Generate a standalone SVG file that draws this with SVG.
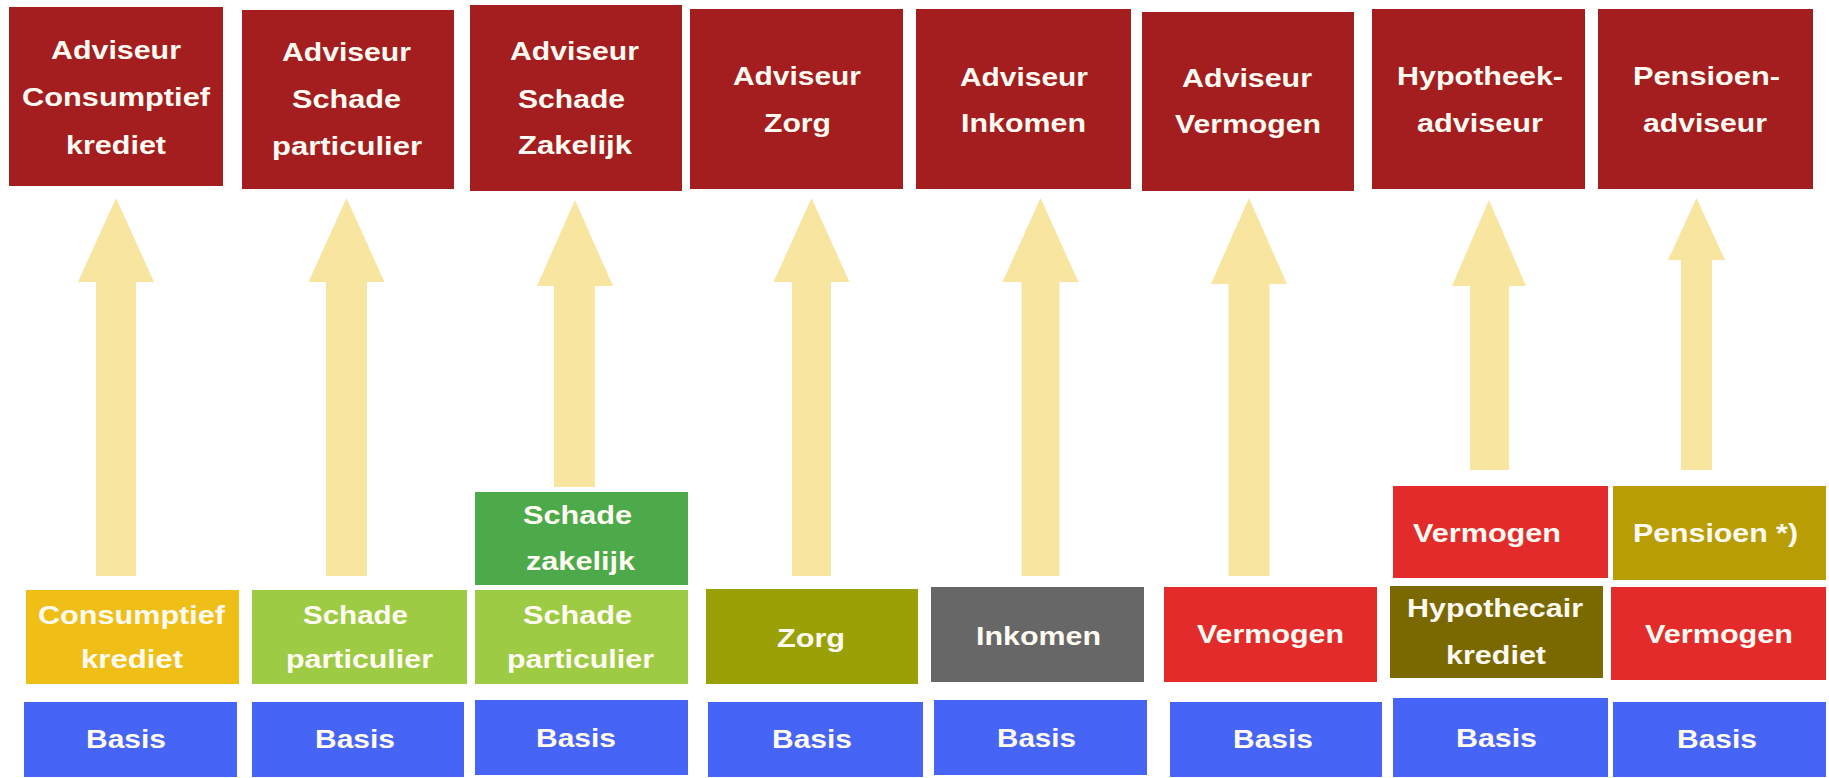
<svg xmlns="http://www.w3.org/2000/svg" width="1829" height="778" viewBox="0 0 1829 778">
<style>
text{font-family:"Liberation Sans",Arial,Helvetica,sans-serif;font-weight:bold;font-size:25px;fill:#FFFBF3}
.top{fill:#A41E1F}
.arrow{fill:#F8E6A0}
.basis{fill:#4665F6}
.cons{fill:#F0BF17}
.spart{fill:#9DCB44}
.szak{fill:#4DAA4A}
.zorg{fill:#99A106}
.ink{fill:#676767}
.verm{fill:#E32B2B}
.pens{fill:#B89D05}
.hypo{fill:#7A6800}
</style>
<rect x="0" y="0" width="1829" height="778" fill="#FFFFFF"/>
<g id="connectors">
<polygon class="arrow" points="116,198 154,282 136,282 136,576 96,576 96,282 78,282"/>
<polygon class="arrow" points="346.5,198 384.5,282 367,282 367,576 326,576 326,282 308.5,282"/>
<polygon class="arrow" points="575,200 613,286 595,286 595,487 554,487 554,286 537,286"/>
<polygon class="arrow" points="811.5,198 849.5,282 831,282 831,576 792,576 792,282 773.5,282"/>
<polygon class="arrow" points="1040.5,198 1078.5,282 1059.5,282 1059.5,576 1021.5,576 1021.5,282 1002.5,282"/>
<polygon class="arrow" points="1249,198 1287,284 1269.5,284 1269.5,576 1228.5,576 1228.5,284 1211,284"/>
<polygon class="arrow" points="1489,200 1526,286 1509,286 1509,470 1470,470 1470,286 1452,286"/>
<polygon class="arrow" points="1696.5,198 1725,260 1712,260 1712,470 1681,470 1681,260 1668,260"/>
</g>
<g id="adv-consumptief">
<rect class="top" x="9" y="7" width="214" height="179"/>
<text x="51" y="59" textLength="130" lengthAdjust="spacingAndGlyphs">Adviseur</text>
<text x="22" y="106" textLength="188" lengthAdjust="spacingAndGlyphs">Consumptief</text>
<text x="66" y="154" textLength="100" lengthAdjust="spacingAndGlyphs">krediet</text>
</g>
<g id="adv-schade-part">
<rect class="top" x="242" y="10" width="212" height="179"/>
<text x="282" y="61" textLength="129" lengthAdjust="spacingAndGlyphs">Adviseur</text>
<text x="292" y="108" textLength="109" lengthAdjust="spacingAndGlyphs">Schade</text>
<text x="272" y="155" textLength="150" lengthAdjust="spacingAndGlyphs">particulier</text>
</g>
<g id="adv-schade-zak">
<rect class="top" x="470" y="5" width="212" height="186"/>
<text x="510" y="60" textLength="129" lengthAdjust="spacingAndGlyphs">Adviseur</text>
<text x="518" y="108" textLength="107" lengthAdjust="spacingAndGlyphs">Schade</text>
<text x="518" y="154" textLength="114" lengthAdjust="spacingAndGlyphs">Zakelijk</text>
</g>
<g id="adv-zorg">
<rect class="top" x="690" y="9" width="213" height="180"/>
<text x="733" y="85" textLength="128" lengthAdjust="spacingAndGlyphs">Adviseur</text>
<text x="764" y="132" textLength="67" lengthAdjust="spacingAndGlyphs">Zorg</text>
</g>
<g id="adv-inkomen">
<rect class="top" x="916" y="9" width="215" height="180"/>
<text x="960" y="86" textLength="128" lengthAdjust="spacingAndGlyphs">Adviseur</text>
<text x="961" y="132" textLength="125" lengthAdjust="spacingAndGlyphs">Inkomen</text>
</g>
<g id="adv-vermogen">
<rect class="top" x="1142" y="12" width="212" height="179"/>
<text x="1182" y="87" textLength="130" lengthAdjust="spacingAndGlyphs">Adviseur</text>
<text x="1175" y="133" textLength="146" lengthAdjust="spacingAndGlyphs">Vermogen</text>
</g>
<g id="hypotheekadviseur">
<rect class="top" x="1372" y="9" width="213" height="180"/>
<text x="1397" y="85" textLength="166" lengthAdjust="spacingAndGlyphs">Hypotheek-</text>
<text x="1417" y="132" textLength="126" lengthAdjust="spacingAndGlyphs">adviseur</text>
</g>
<g id="pensioenadviseur">
<rect class="top" x="1598" y="9" width="215" height="180"/>
<text x="1633" y="85" textLength="147" lengthAdjust="spacingAndGlyphs">Pensioen-</text>
<text x="1643" y="132" textLength="124" lengthAdjust="spacingAndGlyphs">adviseur</text>
</g>
<g id="mod-consumptief">
<rect class="cons" x="26" y="590" width="213" height="94"/>
<text x="38" y="624" textLength="187" lengthAdjust="spacingAndGlyphs">Consumptief</text>
<text x="81" y="668" textLength="102" lengthAdjust="spacingAndGlyphs">krediet</text>
</g>
<g id="mod-schade-part-1">
<rect class="spart" x="252" y="590" width="215" height="94"/>
<text x="303" y="624" textLength="105" lengthAdjust="spacingAndGlyphs">Schade</text>
<text x="286" y="668" textLength="147" lengthAdjust="spacingAndGlyphs">particulier</text>
</g>
<g id="mod-schade-zak">
<rect class="szak" x="475" y="492" width="213" height="93"/>
<text x="523" y="524" textLength="109" lengthAdjust="spacingAndGlyphs">Schade</text>
<text x="526" y="570" textLength="109" lengthAdjust="spacingAndGlyphs">zakelijk</text>
</g>
<g id="mod-schade-part-2">
<rect class="spart" x="475" y="590" width="213" height="94"/>
<text x="523" y="624" textLength="109" lengthAdjust="spacingAndGlyphs">Schade</text>
<text x="507" y="668" textLength="147" lengthAdjust="spacingAndGlyphs">particulier</text>
</g>
<g id="mod-zorg">
<rect class="zorg" x="706" y="589" width="212" height="95"/>
<text x="777" y="647" textLength="68" lengthAdjust="spacingAndGlyphs">Zorg</text>
</g>
<g id="mod-inkomen">
<rect class="ink" x="931" y="587" width="213" height="95"/>
<text x="976" y="645" textLength="125" lengthAdjust="spacingAndGlyphs">Inkomen</text>
</g>
<g id="mod-vermogen-1">
<rect class="verm" x="1164" y="587" width="213" height="95"/>
<text x="1197" y="643" textLength="147" lengthAdjust="spacingAndGlyphs">Vermogen</text>
</g>
<g id="mod-vermogen-2">
<rect class="verm" x="1393" y="486" width="215" height="92"/>
<text x="1413" y="542" textLength="148" lengthAdjust="spacingAndGlyphs">Vermogen</text>
</g>
<g id="mod-pensioen">
<rect class="pens" x="1613" y="486" width="213" height="94"/>
<text x="1633" y="542" textLength="165" lengthAdjust="spacingAndGlyphs">Pensioen *)</text>
</g>
<g id="mod-hypothecair">
<rect class="hypo" x="1390" y="586" width="213" height="92"/>
<text x="1407" y="617" textLength="176" lengthAdjust="spacingAndGlyphs">Hypothecair</text>
<text x="1446" y="664" textLength="100" lengthAdjust="spacingAndGlyphs">krediet</text>
</g>
<g id="mod-vermogen-3">
<rect class="verm" x="1611" y="587" width="215" height="93"/>
<text x="1645" y="643" textLength="148" lengthAdjust="spacingAndGlyphs">Vermogen</text>
</g>
<g id="basis-1"><rect class="basis" x="24" y="702" width="213" height="75"/><text x="86" y="748" textLength="80" lengthAdjust="spacingAndGlyphs">Basis</text></g>
<g id="basis-2"><rect class="basis" x="252" y="702" width="212" height="75"/><text x="315" y="748" textLength="80" lengthAdjust="spacingAndGlyphs">Basis</text></g>
<g id="basis-3"><rect class="basis" x="475" y="700" width="213" height="75"/><text x="536" y="747" textLength="80" lengthAdjust="spacingAndGlyphs">Basis</text></g>
<g id="basis-4"><rect class="basis" x="708" y="702" width="215" height="75"/><text x="772" y="748" textLength="80" lengthAdjust="spacingAndGlyphs">Basis</text></g>
<g id="basis-5"><rect class="basis" x="934" y="700" width="213" height="75"/><text x="997" y="747" textLength="79" lengthAdjust="spacingAndGlyphs">Basis</text></g>
<g id="basis-6"><rect class="basis" x="1170" y="702" width="212" height="75"/><text x="1233" y="748" textLength="80" lengthAdjust="spacingAndGlyphs">Basis</text></g>
<g id="basis-7"><rect class="basis" x="1393" y="698" width="215" height="79"/><text x="1456" y="747" textLength="81" lengthAdjust="spacingAndGlyphs">Basis</text></g>
<g id="basis-8"><rect class="basis" x="1613" y="702" width="213" height="75"/><text x="1677" y="748" textLength="80" lengthAdjust="spacingAndGlyphs">Basis</text></g>
</svg>
